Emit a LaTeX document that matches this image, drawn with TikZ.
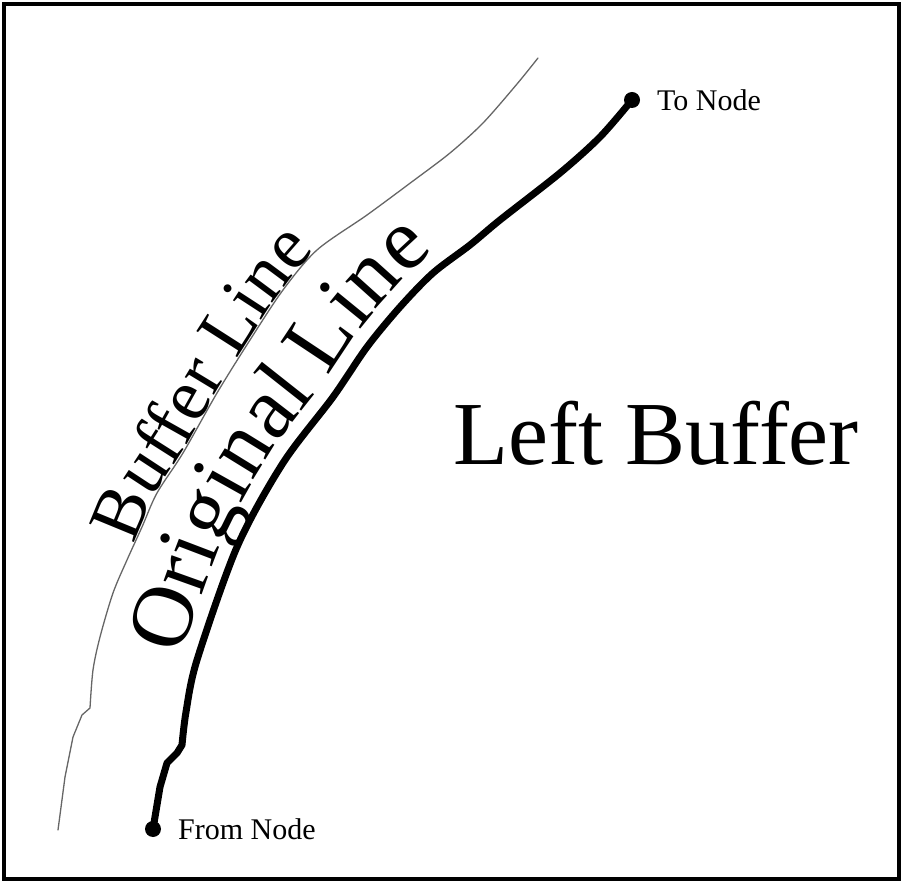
\documentclass[tikz,border=0pt]{standalone}
\usepackage{fontspec}
\setmainfont{Liberation Serif}
\usetikzlibrary{decorations.text}
\tikzset{
  frame/.style={draw=black, line width=4.5pt},
  origline/.style={draw=black, line width=7pt, line cap=round, line join=round},
  bufline/.style={draw=black!60, line width=1.3pt, line cap=round, line join=round},
  enddot/.style={circle, fill=black, inner sep=0pt, minimum size=16pt},
  smalllabel/.style={anchor=base west, inner sep=0pt, font=\fontsize{30}{30}\selectfont},
  biglabel/.style={anchor=base west, inner sep=0pt, font=\fontsize{90}{90}\selectfont}
}
\begin{document}
\begin{tikzpicture}[x=1pt,y=-1pt]
\useasboundingbox (0,0) rectangle (903,882);
\draw[frame] (4,4) rectangle (899,879);

% end nodes
\node[enddot] (fromdot) at (153,829) {};
\node[enddot] (todot) at (632,100) {};
\node[smalllabel] (fromlbl) at (178,839) {From Node};
\node[smalllabel] (tolbl) at (657,111) {To Node};

% buffer line
\draw[bufline] (58,830) -- (65,777) -- (73,737) -- (82,715) -- (90,708)
  -- plot[smooth, tension=0.5] coordinates {(90,708) (93,670) (100,637) (113,593) (127,560) (142,527) (157,493) (183,453) (217,393) (250,340) (283,290) (317,250) (367,215) (413,181) (450,153) (483,123) (517,84) (538,58)};

% original line
\draw[origline] (fromdot.center) -- (160,787) -- (167,763) -- (177,753) -- (182,745)
  -- plot[smooth, tension=0.5] coordinates {(182,745) (186,712) (197,660) (237,547) (283,463) (333,397) (367,347) (400,307) (433,273) (470,245) (500,220) (560,173) (600,137) (todot.center)};

% curved labels
\path[decorate, decoration={text along path, text align=left, raise=1pt,
  text={|\fontsize{74}{74}\selectfont|Buffer Line}}]
  plot[smooth, tension=0.5] coordinates {(134,545) (142,527) (157,493) (183,453) (217,393) (250,340) (283,290) (317,250) (367,215) (413,181) (450,153)};
\path[decorate, decoration={text along path, text align=left, raise=16pt,
  text={|\fontsize{88}{88}\selectfont|Original Line}}]
  plot[smooth, tension=0.5] coordinates {(196,662) (237,547) (283,463) (333,397) (367,347) (400,307) (433,273) (470,245) (500,220) (560,173) (600,137) (632,100)};

\node[biglabel] (leftbuf) at (453,465) {Left Buffer};
\end{tikzpicture}
\end{document}
